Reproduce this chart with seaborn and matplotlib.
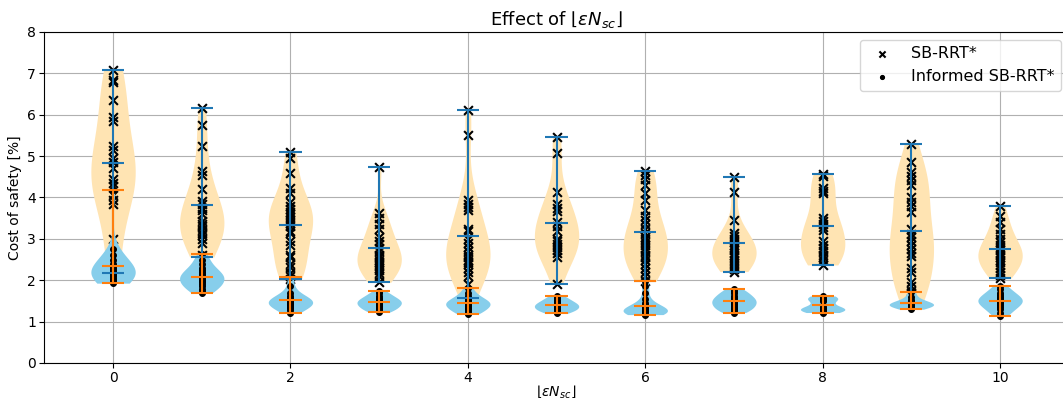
import numpy as np
import pandas as pd
import matplotlib
matplotlib.use("Agg")
import matplotlib.pyplot as plt
import seaborn as sns

# ---------------- data (cost of safety, %) ----------------
positions = [0, 1, 2, 3, 4, 5, 6, 7, 8, 9, 10]
xticks = [0, 2, 4, 6, 8, 10]
yticks = [0, 1, 2, 3, 4, 5, 6, 7, 8]
series_names = ["SB-RRT*", "Informed SB-RRT*"]

# SB-RRT*
sb_0 = [7.08, 6.85, 6.78, 6.35, 5.95, 5.85, 5.25, 5.15, 4.95, 4.85, 4.72, 4.45,
        4.35, 4.28, 4.05, 3.95, 3.85, 3.0, 2.55, 2.18]
sb_1 = [6.16, 5.75, 5.25, 4.65, 4.55, 4.2, 3.92, 3.85, 3.75, 3.7, 3.6, 3.42,
        3.35, 3.3, 3.22, 3.15, 3.1, 3.0, 2.9, 2.6, 2.56]
sb_2 = [5.1, 4.95, 4.6, 4.22, 4.12, 3.9, 3.8, 3.72, 3.65, 3.6, 3.52, 3.45, 3.38,
        3.3, 3.2, 3.15, 2.95, 2.85, 2.62, 2.56, 2.4, 2.32, 2.18, 2.1, 2.03]
sb_3 = [4.73, 3.62, 3.5, 3.35, 3.25, 3.05, 2.95, 2.88, 2.78, 2.7, 2.62, 2.55,
        2.5, 2.45, 2.4, 2.35, 2.3, 2.25, 2.18, 2.1, 1.95]
sb_4 = [6.11, 5.5, 3.95, 3.85, 3.78, 3.7, 3.25, 3.18, 3.0, 2.9, 2.8, 2.7, 2.6,
        2.55, 2.5, 2.45, 2.4, 2.3, 2.2, 2.1, 1.9, 1.57]
sb_5 = [5.47, 5.08, 4.13, 3.85, 3.75, 3.68, 3.4, 3.3, 3.2, 3.0, 2.95, 2.88, 2.8,
        2.72, 2.65, 2.55, 1.91]
sb_6 = [4.64, 4.55, 4.45, 4.3, 4.1, 3.95, 3.7, 3.55, 3.45, 3.35, 3.25, 3.15,
        3.05, 3.0, 2.92, 2.85, 2.78, 2.7, 2.62, 2.55, 2.48, 2.4, 2.3, 2.2, 2.1, 1.97]
sb_7 = [4.49, 4.14, 3.46, 3.15, 3.08, 3.0, 2.92, 2.85, 2.78, 2.72, 2.65, 2.6,
        2.55, 2.48, 2.42, 2.35, 2.28, 2.21]
sb_8 = [4.58, 4.52, 4.22, 4.15, 4.1, 3.5, 3.42, 3.35, 3.28, 3.22, 2.95, 2.85,
        2.78, 2.7, 2.62, 2.55, 2.48, 2.37]
sb_9 = [5.3, 4.85, 4.62, 4.52, 4.42, 4.3, 4.0, 3.9, 3.8, 3.65, 3.25, 3.12, 3.05,
        2.95, 2.85, 2.75, 2.65, 2.58, 2.3, 2.2, 1.95, 1.85, 1.75, 1.7, 1.45]
sb_10 = [3.79, 3.55, 3.4, 3.25, 3.12, 3.0, 2.92, 2.85, 2.78, 2.72, 2.65, 2.6,
         2.55, 2.5, 2.45, 2.38, 2.3, 2.2, 2.12, 2.05]

# Informed SB-RRT*
inf_0 = [4.17, 2.75, 2.6, 2.5, 2.4, 2.35, 2.3, 2.25, 2.22, 2.2, 2.18, 2.15, 2.12,
         2.1, 2.05, 2.0, 1.97, 1.93]
inf_1 = [2.63, 2.5, 2.4, 2.3, 2.25, 2.2, 2.15, 2.12, 2.1, 2.05, 2.0, 1.98, 1.95,
         1.9, 1.85, 1.8, 1.75, 1.69]
inf_2 = [2.08, 1.85, 1.7, 1.62, 1.58, 1.55, 1.52, 1.5, 1.48, 1.45, 1.42, 1.4,
         1.36, 1.32, 1.28, 1.22]
inf_3 = [1.73, 1.68, 1.62, 1.58, 1.55, 1.52, 1.5, 1.47, 1.45, 1.42, 1.4, 1.37,
         1.33, 1.3, 1.27, 1.23]
inf_4 = [1.81, 1.7, 1.62, 1.57, 1.53, 1.5, 1.47, 1.45, 1.42, 1.4, 1.37, 1.34,
         1.3, 1.26, 1.22, 1.18]
inf_5 = [1.62, 1.57, 1.52, 1.48, 1.45, 1.42, 1.4, 1.38, 1.35, 1.32, 1.3, 1.27,
         1.24, 1.2]
inf_6 = [1.97, 1.85, 1.7, 1.55, 1.45, 1.4, 1.37, 1.34, 1.32, 1.3, 1.28, 1.26,
         1.25, 1.24, 1.23, 1.22, 1.21, 1.2, 1.19, 1.17]
inf_7 = [1.78, 1.73, 1.68, 1.62, 1.58, 1.55, 1.52, 1.48, 1.45, 1.42, 1.38, 1.34,
         1.3, 1.26, 1.22]
inf_8 = [1.62, 1.6, 1.57, 1.55, 1.53, 1.5, 1.35, 1.34, 1.32, 1.31, 1.3, 1.28,
         1.26, 1.24, 1.22]
inf_9 = [1.71, 1.6, 1.52, 1.48, 1.46, 1.44, 1.42, 1.4, 1.38, 1.36, 1.34, 1.3]
inf_10 = [1.86, 1.78, 1.7, 1.65, 1.6, 1.57, 1.54, 1.5, 1.47, 1.44, 1.4, 1.35,
          1.3, 1.22, 1.14]

sb_groups = [sb_0, sb_1, sb_2, sb_3, sb_4, sb_5, sb_6, sb_7, sb_8, sb_9, sb_10]
inf_groups = [inf_0, inf_1, inf_2, inf_3, inf_4, inf_5, inf_6, inf_7, inf_8,
              inf_9, inf_10]


def long_df(groups):
    rows = [(p, v) for p, g in zip(positions, groups) for v in g]
    return pd.DataFrame(rows, columns=["pos", "cost"])


df_sb = long_df(sb_groups)
df_inf = long_df(inf_groups)

# ---------------- figure ----------------
fig = plt.figure(figsize=(10.63, 4.05), dpi=100)
ax = fig.add_axes([44.3 / 1063, 42 / 405, 1024.5 / 1063, 331 / 405])
ax.set_axisbelow(True)

ORANGE_BODY = (1.0, 0.894, 0.702)
BLUE_BODY = "#87CEEB"
CAP = 0.125


def draw_stats(df, color):
    st = df.groupby("pos")["cost"].agg(["min", "max", "mean"]).reset_index()
    p = st["pos"].to_numpy(dtype=float)
    ax.vlines(p, st["min"], st["max"], colors=color, linewidth=1.5, zorder=2)
    for col in ["min", "max", "mean"]:
        ax.hlines(st[col], p - CAP, p + CAP, colors=color, linewidth=1.5, zorder=2)


def draw_series(df, body, line, marker, label, size, lw):
    sns.violinplot(data=df, x="pos", y="cost", native_scale=True, width=0.5,
                   cut=0, inner=None, density_norm="width", color=body,
                   saturation=1, linewidth=0, ax=ax, zorder=1)
    sns.scatterplot(data=df, x="pos", y="cost", marker=marker, color="k",
                    edgecolor="k" if marker == "." else None,
                    s=size, linewidth=lw, ax=ax, label=label, zorder=1)
    draw_stats(df, line)


draw_series(df_sb, ORANGE_BODY, "#1f77b4", "x", series_names[0], 40, 1.5)
draw_series(df_inf, BLUE_BODY, "#ff7f0e", ".", series_names[1], 70, 0.8)

ax.set_xlim(-0.775, 10.775)
ax.set_ylim(0, 8)
ax.set_xticks(xticks)
ax.set_yticks(yticks)
ax.tick_params(labelsize=10, pad=2.5)
ax.grid(True, color="#b0b0b0", linewidth=0.8)

ax.set_title(r"Effect of $\lfloor \epsilon N_{sc} \rfloor$", fontsize=13, pad=5)
ax.set_xlabel(r"$\lfloor \epsilon N_{sc} \rfloor$", fontsize=10, labelpad=-1)
ax.set_ylabel("Cost of safety [%]", fontsize=10)

handles, labels = ax.get_legend_handles_labels()
ax.legend(handles, labels, loc="upper right", fontsize=11.5, markerscale=0.7)

fig.savefig("out.png", dpi=100)
